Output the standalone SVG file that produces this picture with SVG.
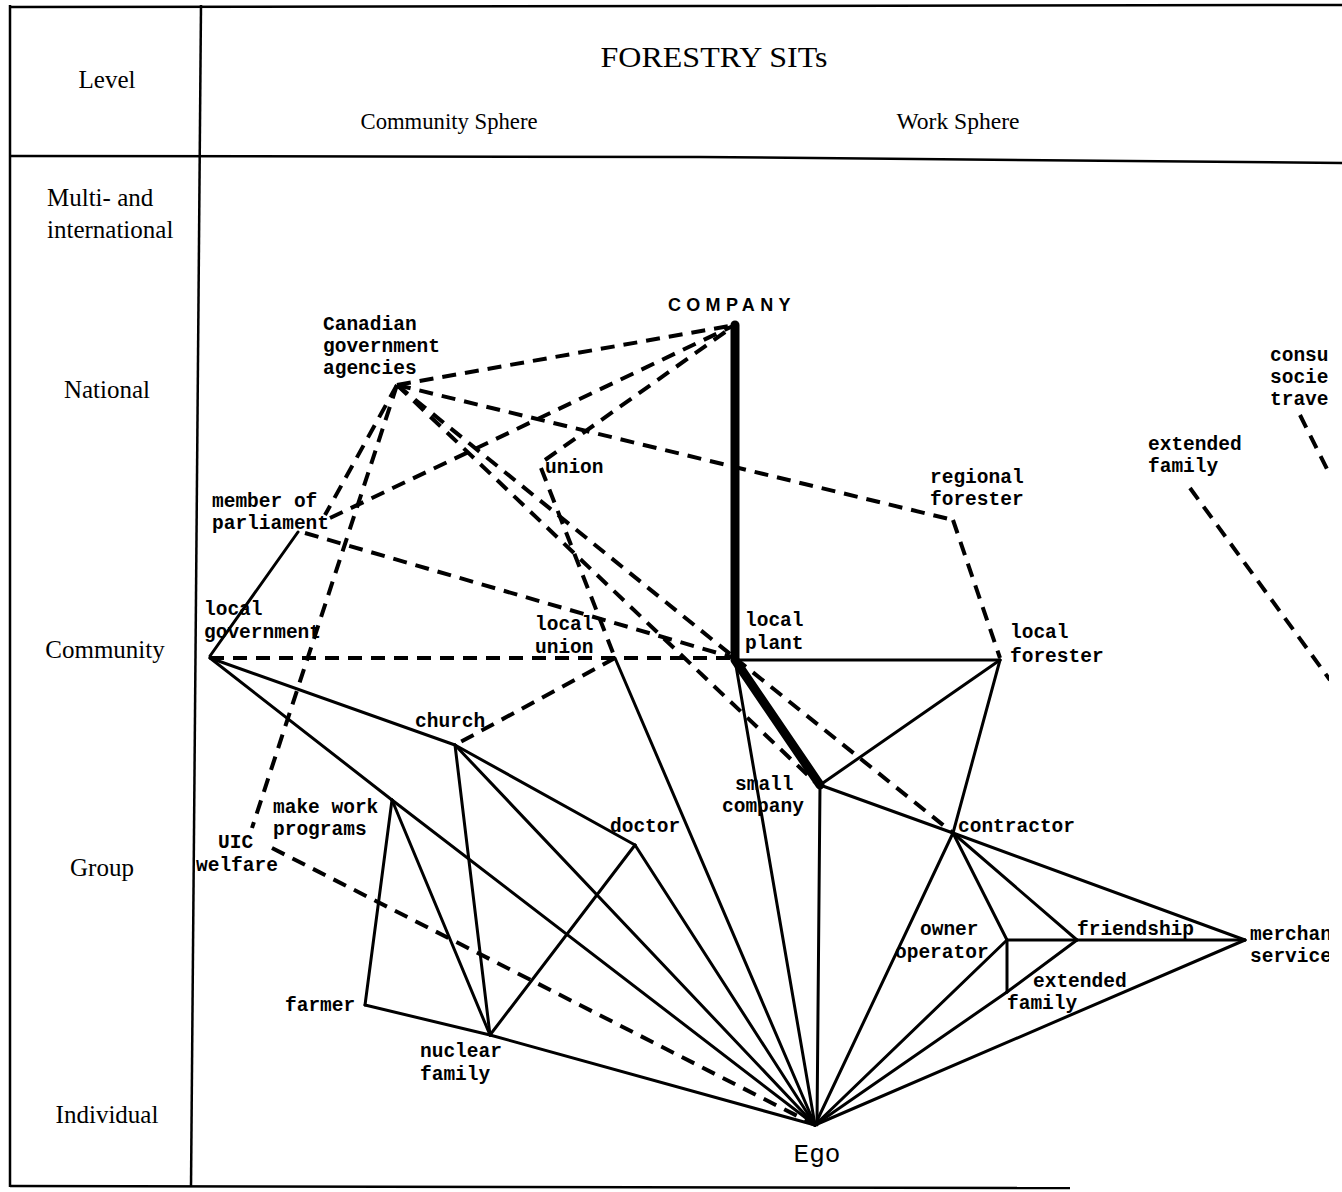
<svg xmlns="http://www.w3.org/2000/svg" width="1342" height="1192" viewBox="0 0 1342 1192">
<defs>
<clipPath id="clip"><rect x="0" y="0" width="1329" height="1192"/></clipPath>
</defs>
<style>
.frame{fill:none;stroke:#000;stroke-width:2.5}
.lvl{font-family:"Liberation Serif",serif;font-size:25px;fill:#000}
.hdr{font-family:"Liberation Serif",serif;fill:#000}
.lab{font-family:"Liberation Mono",monospace;font-weight:bold;font-size:19.5px;fill:#000}
.s{stroke:#000;stroke-width:3;fill:none;stroke-linecap:round}
.d{stroke:#000;stroke-width:4;fill:none;stroke-dasharray:14 9}
.t{stroke:#000;stroke-width:9;fill:none;stroke-linecap:round}
</style>
<rect width="1342" height="1192" fill="#fff"/>
<g id="frame">
<path class="frame" d="M10,7 L700,6 L1342,5"/>
<path class="frame" d="M10,156 L700,157 L1342,163" stroke-width="3"/>
<path class="frame" d="M10,5 L10,1187"/>
<path class="frame" d="M201,5 L191,1187" stroke-width="2"/>
<path class="frame" d="M10,1186 L1070,1188" stroke-width="3"/>
</g>
<g id="header">
<text class="lvl" x="107" y="88" text-anchor="middle">Level</text>
<text class="hdr" x="714" y="67" font-size="30" text-anchor="middle" textLength="227" lengthAdjust="spacingAndGlyphs">FORESTRY SITs</text>
<text class="hdr" x="449" y="129" font-size="24" text-anchor="middle" textLength="177" lengthAdjust="spacingAndGlyphs">Community Sphere</text>
<text class="hdr" x="958" y="129" font-size="24" text-anchor="middle" textLength="123" lengthAdjust="spacingAndGlyphs">Work Sphere</text>
</g>
<g id="levels">
<text class="lvl" x="47" y="206">Multi- and</text>
<text class="lvl" x="47" y="238">international</text>
<text class="lvl" x="107" y="398" text-anchor="middle">National</text>
<text class="lvl" x="105" y="658" text-anchor="middle">Community</text>
<text class="lvl" x="102" y="876" text-anchor="middle">Group</text>
<text class="lvl" x="107" y="1123" text-anchor="middle">Individual</text>
</g>
<g id="connectors" clip-path="url(#clip)">
<path class="d" d="M397,385 L735,325"/>
<path class="d" d="M330,518 L735,325"/>
<path class="d" d="M545,460 L735,325"/>
<path class="d" d="M397,385 L953,520"/>
<path class="d" d="M953,520 L1000,658"/>
<path class="d" d="M397,385 L325,515"/>
<path class="d" d="M397,385 L252,828"/>
<path class="d" d="M397,385 L735,658"/>
<path class="d" d="M397,385 L815,782"/>
<path class="d" d="M541,468 L615,658"/>
<path class="d" d="M305,533 L735,658"/>
<path class="d" d="M210,658 L735,658"/>
<path class="d" d="M615,658 L455,745"/>
<path class="d" d="M735,658 L953,833"/>
<path class="d" d="M272,848 L815,1125"/>
<path class="d" d="M1190,488 L1330,680"/>
<path class="d" d="M1300,415 L1330,475"/>
<path class="t" d="M735,325 L735,658"/>
<path class="t" d="M735,660 L820,785" stroke-width="8"/>
<path class="s" d="M298,532 L210,656"/>
<path class="s" d="M210,658 L455,745"/>
<path class="s" d="M210,658 L392,800"/>
<path class="s" d="M392,800 L815,1125"/>
<path class="s" d="M455,745 L635,845"/>
<path class="s" d="M455,745 L490,1035"/>
<path class="s" d="M455,745 L815,1125"/>
<path class="s" d="M635,845 L490,1035"/>
<path class="s" d="M635,845 L815,1125"/>
<path class="s" d="M392,800 L365,1005"/>
<path class="s" d="M392,800 L490,1035"/>
<path class="s" d="M365,1005 L490,1035"/>
<path class="s" d="M490,1035 L815,1125"/>
<path class="s" d="M615,658 L815,1125"/>
<path class="s" d="M735,660 L815,1125"/>
<path class="s" d="M735,660 L1000,660"/>
<path class="s" d="M820,785 L1000,660"/>
<path class="s" d="M820,785 L953,833"/>
<path class="s" d="M820,785 L817,1125"/>
<path class="s" d="M1000,660 L953,833"/>
<path class="s" d="M953,833 L815,1125"/>
<path class="s" d="M953,833 L1007,940"/>
<path class="s" d="M953,833 L1077,940"/>
<path class="s" d="M953,833 L1245,940"/>
<path class="s" d="M1007,940 L1245,940"/>
<path class="s" d="M1007,940 L1007,992"/>
<path class="s" d="M1077,940 L1007,992"/>
<path class="s" d="M1007,992 L815,1125"/>
<path class="s" d="M1007,940 L815,1125"/>
<path class="s" d="M1245,940 L815,1125"/>
</g>
<g id="company"><text x="668" y="311" font-family="Liberation Sans,Arial,sans-serif" font-weight="bold" font-size="18" letter-spacing="5.3">COMPANY</text></g>
<g id="canadian-government-agencies"><text class="lab" x="323" y="330">Canadian</text><text class="lab" x="323" y="352">government</text><text class="lab" x="323" y="374">agencies</text></g>
<g id="union"><text class="lab" x="545" y="473">union</text></g>
<g id="member-of-parliament"><text class="lab" x="212" y="507">member of</text><text class="lab" x="212" y="529">parliament</text></g>
<g id="regional-forester"><text class="lab" x="930" y="483">regional</text><text class="lab" x="930" y="505">forester</text></g>
<g id="extended-family-right"><text class="lab" x="1148" y="450">extended</text><text class="lab" x="1148" y="472">family</text></g>
<g id="consumer-society" clip-path="url(#clip)"><text class="lab" x="1270" y="361">consu</text><text class="lab" x="1270" y="383">socie</text><text class="lab" x="1270" y="405">trave</text></g>
<g id="local-government"><text class="lab" x="204" y="615">local</text><text class="lab" x="204" y="638">government</text></g>
<g id="local-union"><text class="lab" x="535" y="630">local</text><text class="lab" x="535" y="653">union</text></g>
<g id="local-plant"><text class="lab" x="745" y="626">local</text><text class="lab" x="745" y="649">plant</text></g>
<g id="local-forester"><text class="lab" x="1010" y="638">local</text><text class="lab" x="1010" y="662">forester</text></g>
<g id="church"><text class="lab" x="415" y="727">church</text></g>
<g id="small-company"><text class="lab" x="735" y="790">small</text><text class="lab" x="722" y="812">company</text></g>
<g id="doctor"><text class="lab" x="610" y="832">doctor</text></g>
<g id="contractor"><text class="lab" x="958" y="832">contractor</text></g>
<g id="make-work-programs"><text class="lab" x="273" y="813">make work</text><text class="lab" x="273" y="835">programs</text></g>
<g id="uic-welfare"><text class="lab" x="218" y="848">UIC</text><text class="lab" x="196" y="871">welfare</text></g>
<g id="owner-operator"><text class="lab" x="920" y="935">owner</text><text class="lab" x="895" y="958">operator</text></g>
<g id="friendship"><text class="lab" x="1077" y="935">friendship</text></g>
<g id="merchant-services" clip-path="url(#clip)"><text class="lab" x="1250" y="940">merchan</text><text class="lab" x="1250" y="962">service</text></g>
<g id="extended-family"><text class="lab" x="1033" y="987">extended</text><text class="lab" x="1007" y="1009">family</text></g>
<g id="farmer"><text class="lab" x="285" y="1011">farmer</text></g>
<g id="nuclear-family"><text class="lab" x="420" y="1057">nuclear</text><text class="lab" x="420" y="1080">family</text></g>
<g id="ego"><text x="817" y="1162" font-family="Liberation Mono,monospace" font-size="26" text-anchor="middle">Ego</text></g>
</svg>
